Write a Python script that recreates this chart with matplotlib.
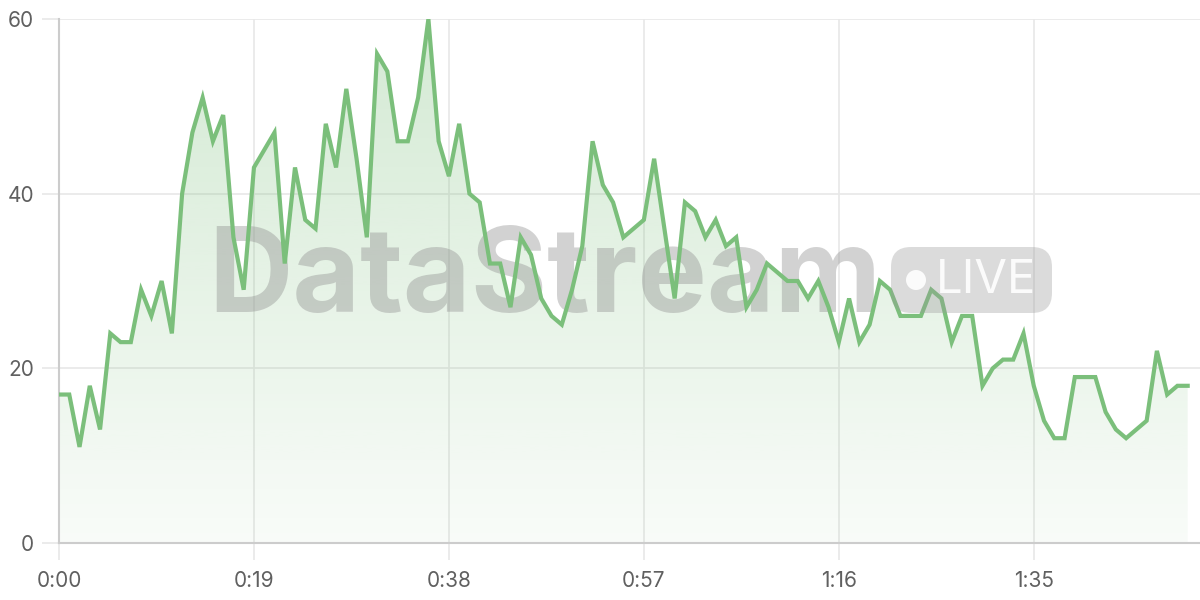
import matplotlib
matplotlib.use("Agg")
import matplotlib.pyplot as plt
import numpy as np
from matplotlib.patches import FancyBboxPatch, Circle

# Значення потоку, одна точка на секунду
values = [17, 17, 11, 18, 13, 24, 23, 23, 29, 26,
          30, 24, 40, 47, 51, 46, 49, 35, 29, 43,
          45, 47, 32, 43, 37, 36, 48, 43, 52, 44,
          35, 56, 54, 46, 46, 51, 60, 46, 42, 48,
          40, 39, 32, 32, 27, 35, 33, 28, 26, 25,
          29, 34, 46, 41, 39, 35, 36, 37, 44, 36,
          28, 39, 38, 35, 37, 34, 35, 27, 29, 32,
          31, 30, 30, 28, 30, 27, 23, 28, 23, 25,
          30, 29, 26, 26, 26, 29, 28, 23, 26, 26,
          18, 20, 21, 21, 24, 18, 14, 12, 12, 19,
          19, 19, 15, 13, 12, 13, 14, 22, 17, 18,
          18]
x_ticks = [0, 19, 38, 57, 76, 95]
x_labels = ["0:00", "0:19", "0:38", "0:57", "1:16", "1:35"]
y_ticks = [0, 20, 40, 60]

line_color = "#7bbf7b"
grid_color = "#e8e8e8"
text_color = "#606060"

x = np.arange(len(values))
y = np.array(values)

fig = plt.figure(figsize=(12, 6), dpi=100)
ax = fig.add_axes([59 / 1200, 57 / 600, 1141 / 1200, 524 / 600])
ax.set_xlim(0, 111.2)
ax.set_ylim(0, 60)

# Градієнтна заливка під лінією
grad = np.zeros((256, 1, 4))
grad[:, 0, 0] = 123 / 255
grad[:, 0, 1] = 191 / 255
grad[:, 0, 2] = 123 / 255
grad[:, 0, 3] = np.linspace(0.05, 0.33, 256)
poly = ax.fill_between(x, y, 0, color="none", lw=0)
img = ax.imshow(grad, aspect="auto", extent=[0, x[-1], 0, 60], origin="lower", zorder=1)
img.set_clip_path(poly.get_paths()[0], transform=ax.transData)

# Водяний знак
ax.text(0.131, 0.5, "DataStream", transform=ax.transAxes, fontsize=84,
        fontweight="bold", family="Inter", color="#8f8f8f", alpha=0.4,
        ha="left", va="center", zorder=2)
# плашка LIVE (координати в дюймах, щоб кути були круглі)
badge = FancyBboxPatch((8.91, 2.87), 1.61, 0.66,
                       boxstyle="round,pad=0,rounding_size=0.2",
                       transform=fig.dpi_scale_trans,
                       facecolor="#9a9a9a", edgecolor="none", alpha=0.35)
fig.patches.append(badge)
fig.patches.append(Circle((9.16, 3.2), 0.1, transform=fig.dpi_scale_trans,
                          facecolor="white", edgecolor="none", alpha=0.9))
fig.text(936 / 1200, 1 - 281 / 600, "LIVE", fontsize=34, family="Inter", color="white",
         alpha=0.9, ha="left", va="center")

ax.plot(x, y, color=line_color, linewidth=3, solid_joinstyle="miter", zorder=3)

ax.set_xticks(x_ticks)
ax.set_xticklabels(x_labels)
ax.set_yticks(y_ticks)
ax.grid(True, color=grid_color, linewidth=1.2, zorder=0)
ax.set_axisbelow(True)
for s in ["top", "right"]:
    ax.spines[s].set_visible(False)
for s in ["left", "bottom"]:
    ax.spines[s].set_color("#cccccc")
    ax.spines[s].set_linewidth(1.5)
ax.tick_params(axis="both", colors=grid_color, labelcolor=text_color, labelsize=15,
               length=12, width=1.2)
ax.tick_params(axis="x", pad=8)
ax.tick_params(axis="y", pad=6)
for lab in ax.get_xticklabels() + ax.get_yticklabels():
    lab.set_family("Inter")

fig.savefig("out.png", dpi=100)
